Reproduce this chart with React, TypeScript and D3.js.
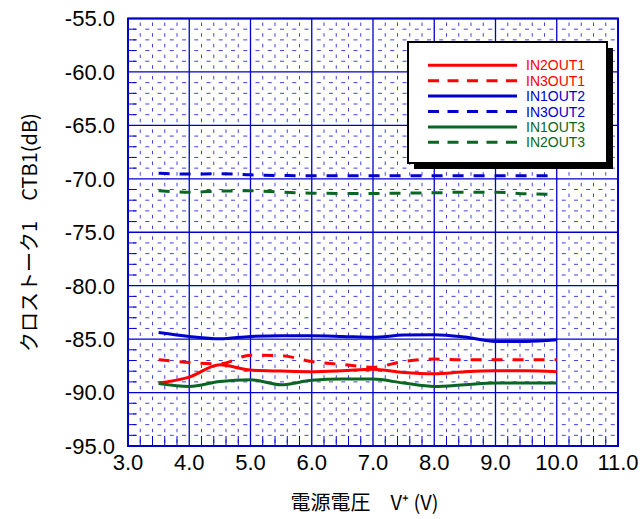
import React from 'react'
import * as d3 from 'd3'

const voltages = [3.5, 4.0, 4.5, 5.0, 5.5, 6.0, 6.5, 7.0, 7.5, 8.0, 8.5, 9.0, 9.5, 10.0]

const in2out1 = [-89.1, -88.55, -87.4, -87.9, -87.99, -88.05, -87.96, -87.82, -88.12, -88.24, -88.05, -87.96, -87.96, -88.05]
const in3out1 = [-86.93, -87.18, -87.31, -86.5, -86.55, -87.1, -87.37, -87.62, -87.09, -86.87, -86.93, -86.93, -86.93, -86.93]
const in1out2 = [-84.38, -84.75, -84.97, -84.75, -84.69, -84.69, -84.75, -84.83, -84.62, -84.59, -84.81, -85.22, -85.22, -85.06]
const in3out2 = [-69.47, -69.56, -69.53, -69.63, -69.69, -69.72, -69.72, -69.72, -69.72, -69.72, -69.72, -69.72, -69.72, -69.72]
const in1out3 = [-89.15, -89.43, -88.96, -88.8, -89.27, -88.85, -88.74, -88.74, -89.11, -89.43, -89.27, -89.11, -89.11, -89.11]
const in2out3 = [-71.12, -71.25, -71.15, -71.12, -71.25, -71.34, -71.37, -71.37, -71.34, -71.31, -71.25, -71.25, -71.4, -71.45]

const seriesNames = ['IN2OUT1', 'IN3OUT1', 'IN1OUT2', 'IN3OUT2', 'IN1OUT3', 'IN2OUT3']
const seriesValues = [in2out1, in3out1, in1out2, in3out2, in1out3, in2out3]
const seriesColors = ['#ff0000', '#ff0000', '#0000cc', '#0000cc', '#0b6623', '#0b6623']
const seriesDashed = [false, true, false, true, false, true]

const xTicks = [3, 4, 5, 6, 7, 8, 9, 10, 11]
const yTicks = [-55, -60, -65, -70, -75, -80, -85, -90, -95]

const xLabel = '電源電圧　V⁺ (V)'
const yLabel = 'クロストーク1　CTB1(dB)'

export default function App() {
  const width = 642, height = 519
  const left = 128, right = 618, top = 18.5, bottom = 446

  const x = d3.scaleLinear().domain([3, 11]).range([left, right])
  const y = d3.scaleLinear().domain([-55, -95]).range([top, bottom])

  const xMinor = d3.range(3, 11.001, 0.2).filter(v => Math.abs(v - Math.round(v)) > 0.01)
  const yMinor = d3.range(-55, -95.001, -1).filter(v => v % 5 !== 0)

  const line = d3.line<number>()
    .x((d, i) => x(voltages[i]))
    .y(d => y(d))
    .curve(d3.curveMonotoneX)

  const font = '"Liberation Sans", Arial, sans-serif'
  const jpFont = '"Noto Sans CJK JP", sans-serif'
  const gridBlue = '#0000cc'

  // legend box
  const lg = { x: 408, y: 42, w: 199, h: 121 }

  return (
    <svg width={width} height={height} style={{ display: 'block', position: 'absolute', left: 0, top: 0 }}>
      <rect width={width} height={height} fill='white' />

      {/* minor grid */}
      {xMinor.map((v, i) => (
        <line key={'xm' + i} x1={x(v)} x2={x(v)} y1={top} y2={bottom}
          stroke='#1111dd' strokeOpacity={0.8} strokeWidth={1} strokeDasharray='3.5,7.19' strokeDashoffset={-4} />
      ))}
      {yMinor.map((v, i) => (
        <line key={'ym' + i} x1={left} x2={right} y1={y(v)} y2={y(v)}
          stroke='#1111dd' strokeOpacity={0.8} strokeWidth={1} strokeDasharray='4,8.25' strokeDashoffset={-5} />
      ))}
      {/* inward minor ticks */}
      {xMinor.map((v, i) => (
        <line key={'xt' + i} x1={x(v)} x2={x(v)} y1={bottom} y2={bottom - 10} stroke={gridBlue} strokeWidth={1} />
      ))}
      {yMinor.map((v, i) => (
        <line key={'yt' + i} x1={left} x2={left + 8} y1={y(v)} y2={y(v)} stroke={gridBlue} strokeWidth={1} />
      ))}

      {/* major grid */}
      {xTicks.map((v, i) => (
        <line key={'xg' + i} x1={x(v)} x2={x(v)} y1={top} y2={bottom} stroke={gridBlue} strokeWidth={1.3} />
      ))}
      {yTicks.map((v, i) => (
        <line key={'yg' + i} x1={left} x2={right} y1={y(v)} y2={y(v)} stroke={gridBlue} strokeWidth={1.3} />
      ))}
      <rect x={left} y={top} width={right - left} height={bottom - top} fill='none' stroke={gridBlue} strokeWidth={2} />

      {/* data */}
      {seriesValues.map((vals, i) => (
        <path key={'s' + i} d={line(vals) || ''} fill='none' stroke={seriesColors[i]} strokeWidth={3}
          strokeDasharray={seriesDashed[i] ? '11,10' : undefined} />
      ))}

      {/* tick labels */}
      {yTicks.map((v, i) => (
        <text key={'yl' + i} x={115} y={y(v)} dy='0.36em' textAnchor='end' fontFamily={font} fontSize={22}>
          {v.toFixed(1)}
        </text>
      ))}
      {xTicks.map((v, i) => (
        <text key={'xl' + i} x={x(v)} y={470} textAnchor='middle' fontFamily={font} fontSize={22}>
          {v.toFixed(1)}
        </text>
      ))}

      {/* axis titles */}
      <text x={0} y={0} transform={`translate(37,${(95 + 370) / 2}) rotate(-90)`} textAnchor='middle'
        fontFamily={jpFont} fontSize={20}>{yLabel}</text>
      <text x={(277 + 452) / 2} y={510} textAnchor='middle' fontFamily={jpFont} fontSize={20}>{xLabel}</text>

      {/* legend */}
      <rect x={lg.x + 6} y={lg.y + 6} width={lg.w} height={lg.h} fill='black' />
      <rect x={lg.x} y={lg.y} width={lg.w} height={lg.h} fill='white' stroke='black' strokeWidth={2} />
      {seriesNames.map((name, i) => {
        const ry = 65.3 + i * 15.4
        return (
          <g key={'lg' + i}>
            <line x1={428} x2={517} y1={ry} y2={ry} stroke={seriesColors[i]} strokeWidth={3}
              strokeDasharray={seriesDashed[i] ? '11,8.5' : undefined} />
            <text x={526} y={ry + 5} fontFamily={font} fontSize={14} fill={seriesColors[i]}>{name}</text>
          </g>
        )
      })}
    </svg>
  )
}
